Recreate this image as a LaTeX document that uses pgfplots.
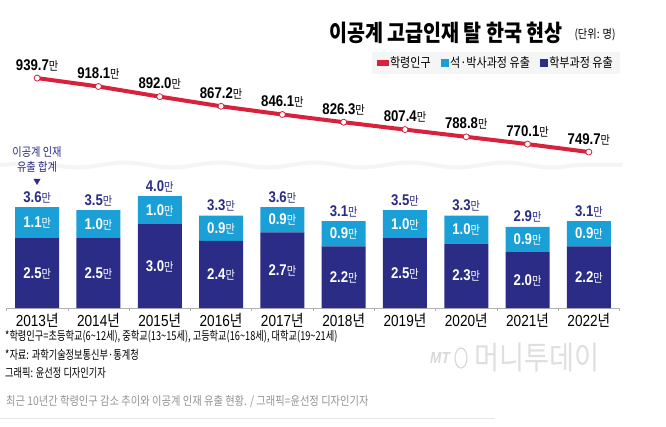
\documentclass[border=0pt]{standalone}
\usepackage{fontspec}
\setmainfont{Noto Sans CJK KR}[FakeStretch=0.85]
\newfontfamily\numfont{Liberation Sans}[FakeStretch=0.85]
\newfontfamily\narrowfont{Noto Sans CJK KR}[FakeStretch=0.75]
\usepackage{pgfplots}
\usepackage{pgfplotstable}
\pgfplotsset{compat=1.18}
\usetikzlibrary{decorations.pathmorphing}
\definecolor{navy}{HTML}{2A2C85}
\definecolor{sky}{HTML}{1AA0D6}
\definecolor{lred}{HTML}{D8213C}
\newcommand\fs[1]{\fontsize{#1}{#1}\selectfont}
\newcommand\man[1]{{\numfont\bfseries #1}{\fs{12}만}}
\newcommand\yr[1]{{\numfont #1}년}
\newcommand\lbl{\man{\pgfmathprintnumber[fixed,fixed zerofill,precision=1,assume math mode=true]{\pgfplotspointmeta}}}

\pgfplotstableread{
x dark light total pop
0 2.5 1.1 3.6 939.7
1 2.5 1.0 3.5 918.1
2 3.0 1.0 4.0 892.0
3 2.4 0.9 3.3 867.2
4 2.7 0.9 3.6 846.1
5 2.2 0.9 3.1 826.3
6 2.5 1.0 3.5 807.4
7 2.3 1.0 3.3 788.8
8 2.0 0.9 2.9 770.1
9 2.2 0.9 3.1 749.7
}\data

\begin{document}
\begin{tikzpicture}
\useasboundingbox (0pt,0pt) rectangle (666pt,426pt);
\fill[white] (0pt,0pt) rectangle (666pt,426pt);
% decorative wave
\draw[gray!8, line width=4pt, decorate, decoration={snake, segment length=95pt, amplitude=2.5pt}] (0pt,261pt) -- (622pt,261pt);

% bars
\begin{axis}[at={(6.5pt,118pt)}, anchor=south west, scale only axis,
  width=613pt, height=140pt, xmin=-0.5, xmax=9.5, ymin=0, ymax=5,
  axis y line=none, axis x line*=bottom,
  x axis line style={gray!60, line width=0.6pt},
  xtick={0,...,9},
  xticklabels={\yr{2013},\yr{2014},\yr{2015},\yr{2016},\yr{2017},\yr{2018},\yr{2019},\yr{2020},\yr{2021},\yr{2022}},
  major tick length=0pt,
  extra x ticks={-0.5,0.5,...,9.5}, extra x tick labels={},
  extra x tick style={major tick length=3pt, tick align=outside, tick style={gray!60, line width=0.6pt}},
  xticklabel style={font=\fs{16}, yshift=-2pt},
  ybar stacked, bar width=44pt, clip=false]
\addplot[fill=navy, draw=none] table[x=x, y=dark] {\data};
\addplot[fill=sky, draw=none] table[x=x, y=light] {\data};
\end{axis}

% bar labels
\begin{axis}[at={(6.5pt,118pt)}, anchor=south west, scale only axis,
  width=613pt, height=140pt, xmin=-0.5, xmax=9.5, ymin=0, ymax=5,
  hide axis, clip=false, nodes near coords={\lbl}]
\addplot[draw=none, mark=none, point meta=explicit,
  every node near coord/.append style={anchor=center, font=\fs{15.5}, text=white}]
  table[x=x, y expr=\thisrow{dark}/2, meta=dark] {\data};
\addplot[draw=none, mark=none, point meta=explicit,
  every node near coord/.append style={anchor=center, font=\fs{15.5}, text=white}]
  table[x=x, y expr=\thisrow{dark}+\thisrow{light}/2, meta=light] {\data};
\addplot[draw=none, mark=none, point meta=explicit,
  every node near coord/.append style={anchor=center, yshift=10pt, font=\fs{15.5}, text=navy}]
  table[x=x, y=total, meta=total] {\data};
\end{axis}

% line
\begin{axis}[at={(6.5pt,254.6pt)}, anchor=south west, scale only axis,
  width=613pt, height=116.8pt, xmin=-0.5, xmax=9.5, ymin=700, ymax=1000,
  hide axis, clip=false,
  legend style={at={(1.0008,1.0214)}, anchor=north east, fill=gray!8, draw=none,
    font=\fs{13}, legend columns=3, inner xsep=5pt, inner ysep=2.5pt,
    /tikz/every even column/.append style={column sep=8pt}},
  legend cell align=left]
\addlegendimage{legend image code/.code={\fill[lred] (0pt,-2.5pt) rectangle (11pt,2.5pt);}}
\addlegendimage{legend image code/.code={\fill[sky] (3pt,-3.5pt) rectangle (10pt,3.5pt);}}
\addlegendimage{legend image code/.code={\fill[navy] (3pt,-3.5pt) rectangle (10pt,3.5pt);}}
\addlegendentry{학령인구}
\addlegendentry{석·박사과정 유출}
\addlegendentry{학부과정 유출}
\addplot[lred, line width=4pt, mark=*, mark size=3pt,
  mark options={fill=white, draw=lred, line width=0.8pt},
  point meta=explicit, nodes near coords={\lbl},
  every node near coord/.append style={anchor=center, yshift=13pt, font=\fs{15.5}, text=black},
  forget plot]
  table[x=x, y=pop, meta=pop] {\data};
\end{axis}

% title
\node[font=\bfseries\fs{23}] at (446pt,393pt) {이공계 고급인재 탈 한국 현상};
\node[anchor=west, font=\fs{12}] at (571pt,391pt) {(단위: 명)};

% annotation
\node[text=navy, font=\fontsize{12}{15}\selectfont, align=center] at (37pt,266.5pt) {이공계 인재\\유출 합계};
\fill[navy] (33.5pt,247pt) -- (40.5pt,247pt) -- (37pt,241pt) -- cycle;

% footnotes
\node[anchor=west, font=\narrowfont\fs{12.3}, inner sep=0pt] at (5pt,89pt) {*학령인구=초등학교(6\textasciitilde12세), 중학교(13\textasciitilde15세), 고등학교(16\textasciitilde18세), 대학교(19\textasciitilde21세)};
\node[anchor=west, font=\narrowfont\fs{12.3}, inner sep=0pt] at (5pt,71pt) {*자료: 과학기술정보통신부·통계청};
\node[anchor=west, font=\narrowfont\fs{12.3}, inner sep=0pt] at (5pt,53pt) {그래픽: 윤선정 디자인기자};

% watermark
\node[text=gray!30, font=\numfont\bfseries\itshape\fs{16}] at (440pt,68pt) {MT};
\draw[gray!30, line width=1.2pt] (461pt,68pt) ellipse (6pt and 10pt);
\node[anchor=west, text=gray!25, font=\fs{32}, inner sep=0pt] at (474pt,68pt) {머니투데이};

% caption
\node[anchor=west, text=gray!85, font=\fs{12.1}, inner sep=0pt] at (6pt,24pt) {최근 10년간 학령인구 감소 추이와 이공계 인재 유출 현황. / 그래픽=윤선정 디자인기자};
\draw[gray!20, line width=0.8pt] (0pt,8pt) -- (495pt,8pt);
\end{tikzpicture}
\end{document}
